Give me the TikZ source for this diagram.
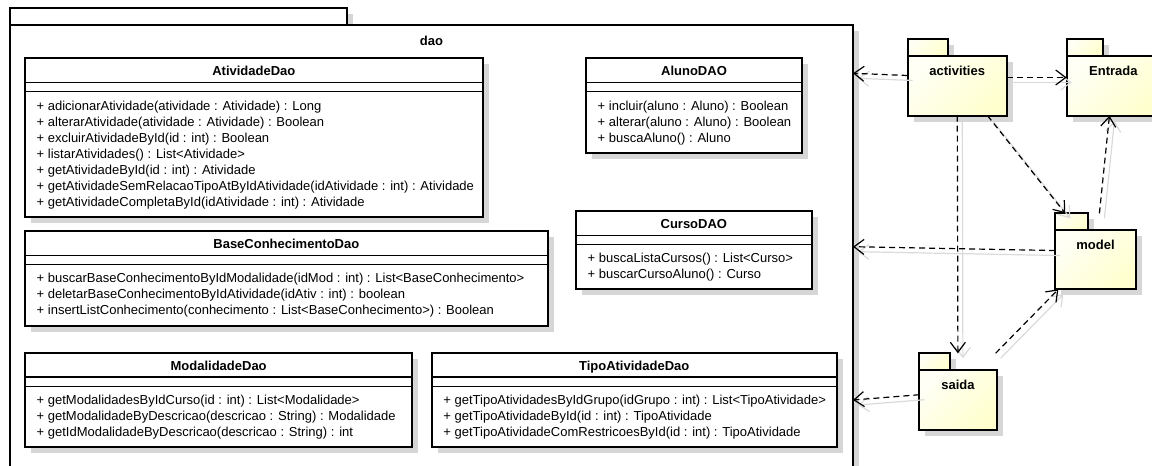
\documentclass[tikz,border=0pt]{standalone}
\usepackage{fontspec}
\setmainfont{Liberation Sans}
\usetikzlibrary{arrows.meta}

\definecolor{shadowgray}{HTML}{D6D6D6}
\definecolor{linkshadow}{HTML}{DADADA}
\definecolor{pkglight}{HTML}{FFFFF6}
\definecolor{pkgdark}{HTML}{FFFFCE}

\tikzset{
  classframe/.style={draw=black, line width=2pt, fill=white, inner sep=0pt, outer sep=0pt},
  compline/.style={line width=1.3pt},
  classname/.style={inner sep=0pt, font=\fontsize{13}{16}\selectfont\bfseries},
  operation/.style={inner sep=0pt, font=\fontsize{13}{16}\selectfont},
  pkgarea/.style={inner sep=0pt, outer sep=0pt},
  pkgline/.style={draw=black, line width=2pt},
  pkgfill/.style={top color=pkglight, bottom color=pkgdark, shading angle=45},
  dep/.style={line width=1.2pt, dash pattern=on 6pt off 4pt,
    -{Straight Barb[length=10pt,width=15pt,line width=1.2pt]}},
  depshadow/.style={draw=linkshadow, line width=1.2pt,
    -{Straight Barb[length=10pt,width=15pt,line width=1.2pt]}},
}

% #1 name, #2/#3 top-left corner, #4/#5 bottom-right corner, #6 class name, #7 operations
\newcommand\umlclass[7]{%
  \fill[shadowgray] (#2+6,#3+6) rectangle (#4+6,#5+6);
  \node[classframe, anchor=north west, minimum width={#4-#2}, minimum height={#5-#3}] (#1) at (#2,#3) {};
  \node[classname, anchor=base] (#1-name) at ({(#2+#4)/2},#3+17.5) {#6};
  \draw[compline] (#2,#3+24.2) -- (#4,#3+24.2);
  \draw[compline] (#2,#3+33.5) -- (#4,#3+33.5);
  \foreach \op [count=\k from 0] in {#7}
    \node[operation, anchor=base west] (#1-op\k) at (#2+11.5,#3+51.7+16*\k) {\op};
}

% #1 name, #2/#3 top-left corner of the tab, #4 width, #5 total height, #6 tab width, #7 label
\newcommand\umlpackage[7]{%
  \fill[shadowgray] (#2+6,#3+6) rectangle (#2+#6+6,#3+22.4);
  \fill[shadowgray] (#2+6,#3+22.4) rectangle (#2+#4+6,#3+#5+6);
  \node[pkgarea, anchor=north west, minimum width={#4}, minimum height={#5}] (#1) at (#2,#3) {};
  \draw[pkgline, pkgfill] (#2,#3) rectangle (#2+#6,#3+16.4);
  \draw[pkgline, pkgfill] (#2,#3+16.4) rectangle (#2+#4,#3+#5);
  \node[classname, anchor=base] (#1-name) at (#2+#4/2,#3+35.9) {#7};
}

% dependency: dashed arrow with its soft shadow
\newcommand\dependency[2]{%
  \draw[depshadow, transform canvas={shift={(5,5)}}] (#1) -- (#2);
  \draw[dep] (#1) -- (#2);
}

\begin{document}
\begin{tikzpicture}[x=1pt, y=-1pt]
\useasboundingbox (0,0) rectangle (1152,466);
\clip (0,0) rectangle (1152,466);

% package dao
\fill[shadowgray] (16,14.3) rectangle (352.7,31);
\fill[shadowgray] (16,31) rectangle (859,620);
\node[pkgarea, anchor=north west, minimum width=843, minimum height=600] (dao) at (10,8.3) {};
\draw[pkgline, fill=white] (10,25) rectangle (853,608.3);
\draw[pkgline, fill=white] (10,8.3) rectangle (346.7,25);
\node[classname, anchor=base] (dao-name) at (431.5,45) {dao};

\umlclass{ativ}{25}{58.3}{482.7}{216.7}{AtividadeDao}{%
  + adicionarAtividade(atividade : Atividade) : Long,
  + alterarAtividade(atividade : Atividade) : Boolean,
  + excluirAtividadeById(id : int) : Boolean,
  + listarAtividades() : List<Atividade>,
  + getAtividadeById(id : int) : Atividade,
  + getAtividadeSemRelacaoTipoAtByIdAtividade(idAtividade : int) : Atividade,
  + getAtividadeCompletaById(idAtividade : int) : Atividade}

\umlclass{aluno}{586}{58.3}{802}{153.3}{AlunoDAO}{%
  + incluir(aluno : Aluno) : Boolean,
  + alterar(aluno : Aluno) : Boolean,
  + buscaAluno() : Aluno}

\umlclass{curso}{576}{211}{811.7}{289.3}{CursoDAO}{%
  + buscaListaCursos() : List<Curso>,
  + buscarCursoAluno() : Curso}

\umlclass{base}{25}{231}{547.7}{326}{BaseConhecimentoDao}{%
  + buscarBaseConhecimentoByIdModalidade(idMod : int) : List<BaseConhecimento>,
  + deletarBaseConhecimentoByIdAtividade(idAtiv : int) : boolean,
  + insertListConhecimento(conhecimento : List<BaseConhecimento>) : Boolean}

\umlclass{modal}{25}{352.7}{412.3}{447.3}{ModalidadeDao}{%
  + getModalidadesByIdCurso(id : int) : List<Modalidade>,
  + getModalidadeByDescricao(descricao : String) : Modalidade,
  + getIdModalidadeByDescricao(descricao : String) : int}

\umlclass{tipo}{431.7}{352.7}{836.7}{447.3}{TipoAtividadeDao}{%
  + getTipoAtividadesByIdGrupo(idGrupo : int) : List<TipoAtividade>,
  + getTipoAtividadeById(id : int) : TipoAtividade,
  + getTipoAtividadeComRestricoesById(id : int) : TipoAtividade}

% neighbouring packages
\umlpackage{act}{907.7}{39.3}{99}{76.4}{40}{activities}
\umlpackage{entr}{1066.7}{39.3}{93.3}{76.4}{36.6}{Entrada}
\umlpackage{model}{1055}{213.3}{81}{76}{32.7}{model}
\umlpackage{saida}{919.3}{353.3}{77.4}{76.7}{30.7}{saida}

% arrival points on the border of dao
\coordinate (dao-a) at (853,73.3);
\coordinate (dao-m) at (853,246.7);
\coordinate (dao-s) at (853,400);

\dependency{act}{dao-a}
\dependency{act}{entr}
\dependency{act}{saida}
\dependency{act}{model}
\dependency{model}{entr}
\dependency{model}{dao-m}
\dependency{saida}{model}
\dependency{saida}{dao-s}
\end{tikzpicture}
\end{document}
